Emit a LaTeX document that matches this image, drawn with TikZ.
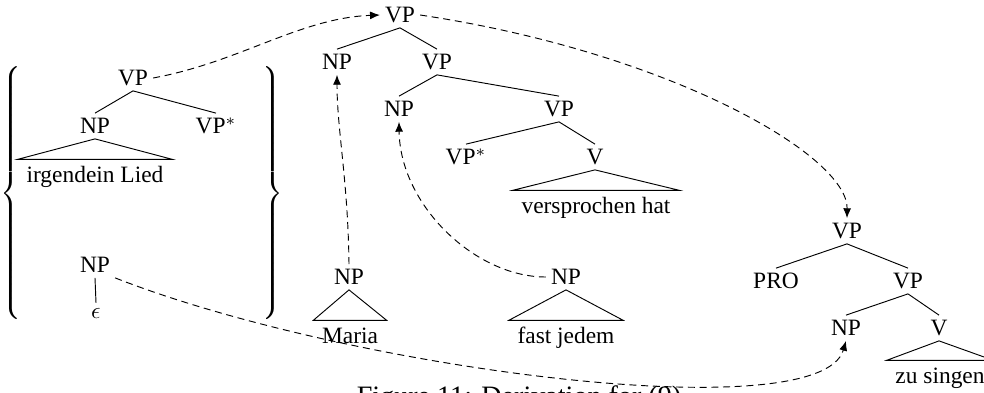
\documentclass[tikz,border=0pt]{standalone}
\usepackage{fontspec}
\setmainfont{Liberation Serif}
\usepackage{tikz}
\usetikzlibrary{arrows.meta}

\begin{document}
\begin{tikzpicture}[
    x=0.427pt, y=-0.427pt,
    >={Latex[length=4.2pt,width=3.4pt]},
    cat/.style={inner sep=2pt, text height=6.6pt, text depth=0pt},
    word/.style={anchor=base, inner xsep=3.5pt, inner ysep=2.5pt, text height=7pt, text depth=2pt},
    link/.style={->, dash pattern=on 3pt off 2pt}
]
\useasboundingbox (0,0) rectangle (984,392);

% === Left: the two elementary trees in braces ===
\node[inner sep=0] (braceL) at (12,196) {$\left\{\vrule height 54pt depth 54pt width 0pt\right.$};
\node[inner sep=0] (braceR) at (271,196) {$\left.\vrule height 54pt depth 54pt width 0pt\right\}$};

\node[cat] (vpL) at (133,78) {VP};
\node[cat] (npL) at (95,126) {NP};
\node[cat] (vpsL) at (216,126) {VP$^*$};
\node[word] (irg) at (95,182) {irgendein Lied};
\draw (vpL.south) -- (npL.north);
\draw (vpL.south) -- (vpsL.north);
\draw (npL.south) -- (irg.north west) -- (irg.north east) -- cycle;

\node[cat] (npE) at (95,265) {NP};
\node[inner sep=2pt] (eps) at (96,313) {$\epsilon$};
\draw (npE.south) -- (eps.north);

% === Middle: main tree ===
\node[cat] (vpT) at (400,15) {VP};
\node[cat] (npA) at (337,62) {NP};
\node[cat] (vpA) at (437,62) {VP};
\draw (vpT.south) -- (npA.north);
\draw (vpT.south) -- (vpA.north);

\node[cat] (npB) at (399,109) {NP};
\node[cat] (vpB) at (559,109) {VP};
\draw (vpA.south) -- (npB.north);
\draw (vpA.south) -- (vpB.north);

\node[cat] (vpsB) at (466,157) {VP$^*$};
\node[cat] (vB) at (595,157) {V};
\draw (vpB.south) -- (vpsB.north);
\draw (vpB.south) -- (vB.north);
\node[word] (versp) at (596,213) {versprochen hat};
\draw (vB.south) -- (versp.north west) -- (versp.north east) -- cycle;

% === Middle: substituted NPs ===
\node[cat] (npM) at (349,277) {NP};
\node[word] (maria) at (350,343) {Maria};
\draw (npM.south) -- (maria.north west) -- (maria.north east) -- cycle;

\node[cat] (npF) at (566,277) {NP};
\node[word] (fast) at (566,343) {fast jedem};
\draw (npF.south) -- (fast.north west) -- (fast.north east) -- cycle;

% === Right: infinitive tree ===
\node[cat] (vpR) at (847,231) {VP};
\node[cat] (pro) at (776,281) {PRO};
\node[cat] (vpR2) at (908,281) {VP};
\draw (vpR.south) -- (pro.north);
\draw (vpR.south) -- (vpR2.north);

\node[cat] (npR) at (846,328) {NP};
\node[cat] (vR) at (939,328) {V};
\draw (vpR2.south) -- (npR.north);
\draw (vpR2.south) -- (vR.north);
\node[word] (zus) at (940,383) {zu singen};
\draw (vR.south) -- (zus.north west) -- (zus.north east) -- cycle;

% === Dashed derivation links ===
\draw[link] (vpL.east) .. controls (240,62) and (300,18) .. (vpT.west);
\draw[link] (vpT.east) .. controls (668,52) and (848,155) .. (vpR.north);
\draw[link] (npM.north) .. controls (348,180) and (337,130) .. (npA.south);
\draw[link] (npF.west) .. controls (475,277) and (400,205) .. (npB.south);
\draw[link] (npE.south east) .. controls (350,370) and (820,430) .. (npR.south);

% Caption
\node[anchor=north, inner sep=0, font=\fontsize{12pt}{14pt}\selectfont] (capt) at (519,385) {Figure 11: Derivation for (9)};
\end{tikzpicture}
\end{document}
